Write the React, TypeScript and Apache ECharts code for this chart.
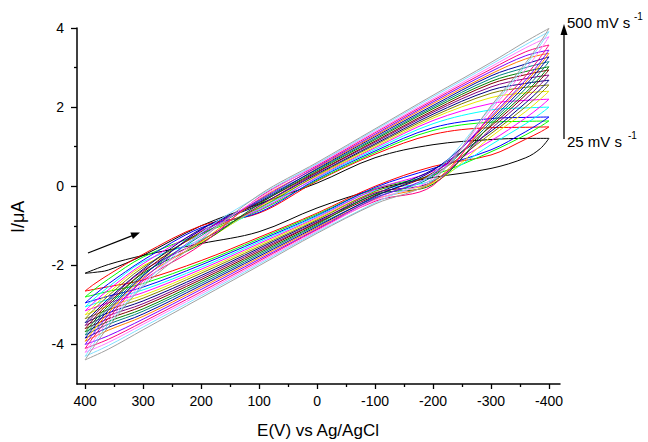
import React, { useEffect, useRef } from "react";
import * as echarts from "echarts";

// Potential (mV) sampling of each strand of a cyclic voltammogram
const potentialForward = [400, 385, 360, 300, 200, 100, 0, -100, -200, -300, -360, -400];
const potentialReverse = [-400, -385, -360, -300, -200, -100, 0, 100, 200, 300, 360, 400];

// Scan rates (mV/s)
const scanRates = [25, 50, 75, 100, 125, 150, 175, 200, 225, 250, 275, 300, 325, 350, 375, 400, 425, 450, 475, 500];

const curveColors = [
  "#000000", "#ff0000", "#00ff00", "#0000ff", "#00ffff", "#ff00ff", "#e8e800", "#808000",
  "#000080", "#800080", "#800000", "#008000", "#008080", "#0000a0", "#ff8000", "#8000ff",
  "#ff0080", "#ff80ff", "#80e0ff", "#a0a0a0",
];

// Current (µA) on the forward strand (400 -> -400 mV)
const forwardCurrent = [
  [-2.2, -2.18, -2.12, -1.75, -1.0, -0.45, 0.08, 0.72, 1.05, 1.18, 1.21, 1.21],
  [-2.65, -2.48, -2.24, -1.72, -1.0, -0.68, 0.13, 0.81, 1.31, 1.48, 1.49, 1.5],
  [-2.8, -2.62, -2.35, -1.79, -1.2, -0.62, 0.15, 0.85, 1.41, 1.62, 1.64, 1.65],
  [-2.95, -2.76, -2.47, -1.87, -1.05, -0.66, 0.18, 0.89, 1.48, 1.71, 1.74, 1.75],
  [-3.05, -2.85, -2.55, -1.91, -1.35, -0.57, 0.21, 0.93, 1.58, 1.93, 1.98, 2.0],
  [-3.15, -2.94, -2.62, -1.96, -1.12, -0.6, 0.23, 0.97, 1.66, 2.09, 2.17, 2.2],
  [-3.25, -3.03, -2.7, -2.01, -1.42, -0.52, 0.26, 1.0, 1.72, 2.24, 2.36, 2.4],
  [-3.35, -3.12, -2.77, -2.05, -1.2, -0.55, 0.28, 1.04, 1.77, 2.35, 2.5, 2.56],
  [-3.45, -3.21, -2.85, -2.1, -1.08, -0.47, 0.31, 1.07, 1.82, 2.43, 2.6, 2.68],
  [-3.52, -3.27, -2.9, -2.13, -1.38, -0.5, 0.34, 1.11, 1.87, 2.51, 2.72, 2.81],
  [-3.6, -3.35, -2.96, -2.17, -1.15, -0.42, 0.36, 1.14, 1.91, 2.59, 2.82, 2.94],
  [-3.68, -3.42, -3.02, -2.2, -1.45, -0.45, 0.39, 1.18, 1.96, 2.65, 2.9, 3.02],
  [-3.76, -3.49, -3.08, -2.24, -1.25, -0.37, 0.42, 1.21, 2.0, 2.72, 3.0, 3.15],
  [-3.84, -3.56, -3.14, -2.27, -1.1, -0.4, 0.44, 1.25, 2.04, 2.79, 3.09, 3.27],
  [-3.92, -3.63, -3.2, -2.31, -1.4, -0.33, 0.47, 1.28, 2.09, 2.84, 3.22, 3.36],
  [-4.0, -3.71, -3.26, -2.35, -1.2, -0.35, 0.49, 1.31, 2.13, 2.9, 3.3, 3.44],
  [-4.1, -3.8, -3.34, -2.39, -1.48, -0.28, 0.52, 1.35, 2.17, 2.96, 3.4, 3.57],
  [-4.2, -3.89, -3.42, -2.44, -1.3, -0.3, 0.55, 1.38, 2.21, 3.02, 3.5, 3.78],
  [-4.3, -3.98, -3.49, -2.49, -1.18, -0.24, 0.57, 1.42, 2.26, 3.08, 3.58, 3.91],
  [-4.39, -4.06, -3.56, -2.53, -1.35, -0.22, 0.6, 1.45, 2.3, 3.13, 3.66, 3.99],
];

// Current (µA) on the reverse strand (-400 -> 400 mV)
const reverseCurrent = [
  [1.21, 0.95, 0.72, 0.45, 0.22, -0.08, -0.55, -1.15, -1.45, -1.75, -1.98, -2.2],
  [1.5, 1.37, 1.19, 0.79, 0.5, 0.0, -0.68, -1.29, -1.88, -2.37, -2.54, -2.65],
  [1.65, 1.51, 1.3, 0.87, 0.28, -0.06, -0.71, -1.33, -1.94, -2.46, -2.66, -2.8],
  [1.75, 1.6, 1.38, 0.92, 0.45, -0.03, -0.74, -1.37, -1.99, -2.55, -2.78, -2.95],
  [2.0, 1.83, 1.58, 1.05, 0.15, -0.11, -0.76, -1.41, -2.05, -2.62, -2.86, -3.05],
  [2.2, 2.01, 1.73, 1.15, 0.38, -0.08, -0.79, -1.45, -2.1, -2.69, -2.95, -3.15],
  [2.4, 2.2, 1.89, 1.25, 0.08, -0.16, -0.82, -1.49, -2.15, -2.76, -3.03, -3.25],
  [2.56, 2.34, 2.01, 1.33, 0.3, -0.13, -0.85, -1.53, -2.2, -2.83, -3.12, -3.35],
  [2.68, 2.45, 2.11, 1.39, 0.42, -0.2, -0.88, -1.57, -2.26, -2.9, -3.2, -3.45],
  [2.81, 2.57, 2.21, 1.45, 0.12, -0.17, -0.91, -1.61, -2.31, -2.97, -3.27, -3.52],
  [2.94, 2.69, 2.31, 1.52, 0.34, -0.24, -0.93, -1.65, -2.36, -3.03, -3.35, -3.6],
  [3.02, 2.76, 2.37, 1.56, 0.05, -0.21, -0.96, -1.69, -2.41, -3.1, -3.42, -3.68],
  [3.15, 2.88, 2.47, 1.62, 0.25, -0.29, -0.99, -1.73, -2.46, -3.16, -3.49, -3.76],
  [3.27, 2.99, 2.56, 1.68, 0.4, -0.26, -1.02, -1.77, -2.51, -3.23, -3.57, -3.84],
  [3.36, 3.07, 2.63, 1.72, 0.1, -0.33, -1.05, -1.81, -2.56, -3.29, -3.64, -3.92],
  [3.44, 3.14, 2.69, 1.76, 0.3, -0.31, -1.08, -1.85, -2.61, -3.36, -3.78, -4.0],
  [3.57, 3.26, 2.79, 1.82, 0.02, -0.38, -1.1, -1.89, -2.67, -3.43, -3.87, -4.1],
  [3.78, 3.45, 2.96, 1.93, 0.2, -0.35, -1.13, -1.93, -2.72, -3.49, -3.95, -4.2],
  [3.91, 3.57, 3.06, 1.99, 0.32, -0.42, -1.16, -1.97, -2.77, -3.56, -4.03, -4.3],
  [3.99, 3.64, 3.12, 2.03, 0.15, -0.45, -1.19, -2.01, -2.82, -3.63, -4.12, -4.39],
];

const xMajorTicks = [400, 300, 200, 100, 0, -100, -200, -300, -400];
const xMinorTicks = [350, 250, 150, 50, -50, -150, -250, -350];
const yMajorTicks = [4, 2, 0, -2, -4];
const yMinorTicks = [3, 1, -1, -3];

const FONT = "'Liberation Sans', Arial, sans-serif";

function txt(text: string, x: number, y: number, fontSize: number, align = "left", extra: any = {}) {
  return {
    type: "text",
    x,
    y,
    silent: true,
    ...extra,
    style: {
      text,
      fontSize,
      fontFamily: FONT,
      fill: "#000",
      align,
      textAlign: align,
      verticalAlign: "middle",
      textVerticalAlign: "middle",
    },
  };
}

function arrowHead(x1: number, y1: number, x2: number, y2: number, len: number, half: number) {
  const dx = x2 - x1;
  const dy = y2 - y1;
  const d = Math.sqrt(dx * dx + dy * dy);
  const ux = dx / d;
  const uy = dy / d;
  const bx = x2 - ux * len;
  const by = y2 - uy * len;
  return [
    [x2, y2],
    [bx - uy * half, by + ux * half],
    [bx + uy * half, by - ux * half],
  ];
}

export default function App() {
  const ref = useRef<HTMLDivElement>(null);
  useEffect(() => {
    if (!ref.current) return;
    const chart = echarts.init(ref.current, null, { renderer: "svg" });
    const series: any[] = [];
    scanRates.forEach((rate, k) => {
      const color = curveColors[k];
      series.push({
        name: `${rate} mV/s forward`,
        type: "line",
        xAxisIndex: 0,
        yAxisIndex: 0,
        data: potentialForward.map((e, i) => [e, forwardCurrent[k][i]]),
        smooth: 0.35,
        symbol: "none",
        silent: true,
        lineStyle: { color, width: 1 },
      });
      series.push({
        name: `${rate} mV/s reverse`,
        type: "line",
        xAxisIndex: 0,
        yAxisIndex: 0,
        data: potentialReverse.map((e, i) => [e, reverseCurrent[k][i]]),
        smooth: 0.35,
        symbol: "none",
        silent: true,
        lineStyle: { color, width: 1 },
      });
    });

    const axisText = { color: "#000", fontSize: 14, fontFamily: FONT };
    const leftArrowHead = arrowHead(88, 253, 140, 232.5, 9, 3.5);

    chart.setOption({
      animation: false,
      backgroundColor: "#fff",
      grid: { left: 77, right: 88, top: 28, bottom: 58, containLabel: false },
      xAxis: [
        {
          type: "value",
          min: -419,
          max: 414,
          inverse: true,
          position: "bottom",
          axisLine: { show: true, onZero: false, lineStyle: { color: "#000", width: 1.5 } },
          axisTick: { show: true, customValues: xMajorTicks, length: 5, lineStyle: { color: "#000", width: 1.3 } },
          axisLabel: { show: true, customValues: xMajorTicks, margin: 10, ...axisText, formatter: (v: number) => String(v) },
          splitLine: { show: false },
        },
        {
          type: "value",
          min: -419,
          max: 414,
          inverse: true,
          position: "bottom",
          offset: 0,
          axisLine: { show: false, onZero: false },
          axisTick: { show: true, customValues: xMinorTicks, length: 3, lineStyle: { color: "#000", width: 1.3 } },
          axisLabel: { show: false },
          splitLine: { show: false },
        },
      ],
      yAxis: [
        {
          type: "value",
          min: -5,
          max: 4,
          position: "left",
          axisLine: { show: true, onZero: false, lineStyle: { color: "#000", width: 1.5 } },
          axisTick: { show: true, customValues: yMajorTicks, length: 6, lineStyle: { color: "#000", width: 1.3 } },
          axisLabel: { show: true, customValues: yMajorTicks, margin: 13, ...axisText, formatter: (v: number) => String(v) },
          splitLine: { show: false },
        },
        {
          type: "value",
          min: -5,
          max: 4,
          position: "left",
          offset: 0,
          axisLine: { show: false, onZero: false },
          axisTick: { show: true, customValues: yMinorTicks, length: 3, lineStyle: { color: "#000", width: 1.3 } },
          axisLabel: { show: false },
          splitLine: { show: false },
        },
      ],
      series,
      graphic: [
        txt("I/\u03bcA", 18, 233, 18, "left", { rotation: Math.PI / 2 }),
        txt("E(V) vs Ag/AgCl", 318, 430, 17, "center"),
        {
          type: "line",
          silent: true,
          shape: { x1: 564, y1: 139, x2: 564, y2: 32 },
          style: { stroke: "#000", lineWidth: 1.3 },
        },
        {
          type: "polygon",
          silent: true,
          shape: { points: [[564, 24], [560.5, 35], [567.5, 35]] },
          style: { fill: "#000" },
        },
        txt("500 mV s", 567, 22, 15),
        txt("-1", 634, 16, 10),
        txt("25 mV s", 567, 141, 15),
        txt("-1", 628, 135, 10),
        {
          type: "line",
          silent: true,
          shape: { x1: 88, y1: 253, x2: 133, y2: 235.3 },
          style: { stroke: "#000", lineWidth: 1.3 },
        },
        {
          type: "polygon",
          silent: true,
          shape: { points: leftArrowHead },
          style: { fill: "#000" },
        },
      ],
    });
    return () => chart.dispose();
  }, []);
  return <div ref={ref} style={{ position: "absolute", left: 0, top: 0, width: 648, height: 442 }} />;
}
